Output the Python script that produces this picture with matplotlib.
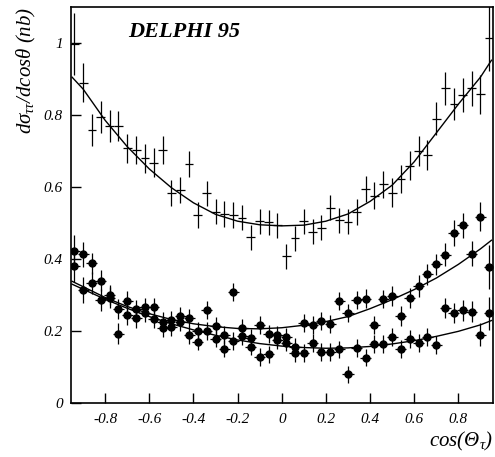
import matplotlib
matplotlib.use("Agg")
import matplotlib.pyplot as plt
import numpy as np

# ==============================
# DATA
# ==============================
bins = [-0.94, -0.90, -0.86, -0.82, -0.78, -0.74, -0.70, -0.66, -0.62, -0.58,
        -0.54, -0.50, -0.46, -0.42, -0.38, -0.34, -0.30, -0.26, -0.22, -0.18,
        -0.14, -0.10, -0.06, -0.02, 0.02, 0.06, 0.10, 0.14, 0.18, 0.22,
        0.26, 0.30, 0.34, 0.38, 0.42, 0.46, 0.50, 0.54, 0.58, 0.62,
        0.66, 0.70, 0.74, 0.78, 0.82, 0.86, 0.90, 0.94]

# upper data set (crosses)
top_y = [0.997, 0.890, 0.758, 0.794, 0.770, 0.770, 0.708, 0.703, 0.680, 0.667,
         0.703, 0.583, 0.592, 0.664, 0.522, 0.583, 0.531, 0.525, 0.522, 0.515,
         0.460, 0.505, 0.502, 0.494, 0.408, 0.457, 0.505, 0.476, 0.487, 0.542,
         0.507, 0.504, 0.531, 0.594, 0.576, 0.607, 0.584, 0.622, 0.659, 0.700,
         0.689, 0.790, 0.874, 0.830, 0.856, 0.874, 0.857, 1.013]
top_err = [0.085, 0.055, 0.045, 0.045, 0.045, 0.042, 0.040, 0.040, 0.040, 0.040,
           0.040, 0.037, 0.037, 0.037, 0.035, 0.035, 0.035, 0.035, 0.035, 0.035,
           0.035, 0.035, 0.035, 0.035, 0.035, 0.035, 0.035, 0.035, 0.035, 0.035,
           0.035, 0.035, 0.037, 0.037, 0.037, 0.037, 0.040, 0.040, 0.040, 0.042,
           0.042, 0.045, 0.045, 0.045, 0.048, 0.048, 0.055, 0.090]

# middle data set (dots)
mid_y = [0.380, 0.413, 0.388, 0.340, 0.300, 0.262, 0.284, 0.260, 0.266, 0.266,
         0.226, 0.230, 0.242, 0.237, 0.199, 0.258, 0.214, 0.190, 0.309, 0.207,
         0.180, 0.217, 0.193, 0.190, 0.182, 0.156, 0.221, 0.217, 0.228, 0.219,
         0.283, 0.249, 0.286, 0.290, 0.217, 0.289, 0.297, 0.242, 0.292, 0.325,
         0.357, 0.385, 0.412, 0.472, 0.494, 0.415, 0.517, 0.378]
mid_err = [0.045, 0.035, 0.030, 0.030, 0.028, 0.028, 0.028, 0.026, 0.026, 0.026,
           0.026, 0.025, 0.025, 0.025, 0.025, 0.025, 0.025, 0.025, 0.025, 0.025,
           0.025, 0.025, 0.025, 0.025, 0.025, 0.025, 0.025, 0.025, 0.025, 0.025,
           0.025, 0.025, 0.026, 0.026, 0.026, 0.026, 0.028, 0.028, 0.028, 0.030,
           0.030, 0.030, 0.032, 0.035, 0.035, 0.035, 0.040, 0.060]

# lower data set (dots)
low_y = [0.423, 0.314, 0.333, 0.286, 0.293, 0.193, 0.244, 0.235, 0.250, 0.233,
         0.207, 0.212, 0.226, 0.190, 0.170, 0.200, 0.179, 0.151, 0.172, 0.185,
         0.156, 0.128, 0.135, 0.175, 0.168, 0.138, 0.139, 0.167, 0.142, 0.142,
         0.149, 0.080, 0.153, 0.126, 0.164, 0.164, 0.182, 0.150, 0.177, 0.167,
         0.183, 0.161, 0.265, 0.251, 0.257, 0.254, 0.190, 0.249]
low_err = [0.045, 0.035, 0.030, 0.030, 0.028, 0.028, 0.028, 0.026, 0.026, 0.026,
           0.025, 0.025, 0.025, 0.025, 0.024, 0.024, 0.024, 0.024, 0.024, 0.024,
           0.024, 0.024, 0.024, 0.024, 0.024, 0.024, 0.024, 0.024, 0.024, 0.024,
           0.024, 0.024, 0.024, 0.024, 0.024, 0.024, 0.025, 0.025, 0.025, 0.026,
           0.026, 0.026, 0.028, 0.028, 0.030, 0.030, 0.032, 0.045]

# fitted curves, read at fixed cos(theta) values
fit_x = [-0.95, -0.9, -0.8, -0.7, -0.6, -0.5, -0.4, -0.3, -0.2, -0.1, 0.0,
         0.1, 0.2, 0.3, 0.4, 0.5, 0.6, 0.7, 0.8, 0.9, 0.95]
fit_top = [0.905, 0.872, 0.785, 0.712, 0.650, 0.598, 0.556, 0.524, 0.505, 0.495, 0.492,
           0.494, 0.505, 0.525, 0.560, 0.605, 0.670, 0.750, 0.830, 0.905, 0.952]
fit_mid = [0.338, 0.323, 0.293, 0.268, 0.248, 0.232, 0.220, 0.212, 0.207, 0.206, 0.209,
           0.216, 0.226, 0.240, 0.262, 0.287, 0.315, 0.347, 0.385, 0.428, 0.452]
fit_low = [0.330, 0.316, 0.288, 0.263, 0.240, 0.220, 0.203, 0.188, 0.175, 0.165, 0.158,
           0.154, 0.152, 0.153, 0.157, 0.164, 0.173, 0.185, 0.199, 0.217, 0.229]

yticks = [0, 0.2, 0.4, 0.6, 0.8, 1]
ytick_labels = ["0", "0.2", "0.4", "0.6", "0.8", "1"]
xticks = [-0.8, -0.6, -0.4, -0.2, 0, 0.2, 0.4, 0.6, 0.8]
xtick_labels = ["-0.8", "-0.6", "-0.4", "-0.2", "0", "0.2", "0.4", "0.6", "0.8"]

# ==============================
# STYLE
# ==============================
plt.rcParams["font.family"] = ["Liberation Serif", "DejaVu Serif"]
plt.rcParams["font.style"] = "italic"
plt.rcParams["mathtext.fontset"] = "custom"
plt.rcParams["mathtext.it"] = "Liberation Serif:italic"
plt.rcParams["mathtext.rm"] = "Liberation Serif:italic"
plt.rcParams["axes.unicode_minus"] = False

fig = plt.figure(figsize=(4.95, 4.57), dpi=100)
ax = fig.add_axes([0.1434, 0.1182, 0.853, 0.8665])

# ==============================
# DATA POINTS
# ==============================
ax.errorbar(bins, top_y, yerr=top_err, xerr=0.02, fmt="none",
            ecolor="black", elinewidth=0.9, capsize=0)
ax.errorbar(bins, mid_y, yerr=mid_err, xerr=0.025, fmt="o", color="black",
            ms=5, elinewidth=0.9, capsize=0)
ax.errorbar(bins, low_y, yerr=low_err, xerr=0.025, fmt="o", color="black",
            ms=5, elinewidth=0.9, capsize=0)

# ==============================
# FITS
# ==============================
for fy in (fit_top, fit_mid, fit_low):
    ax.plot(fit_x, fy, color="black", lw=1.0)

# ==============================
# AXES
# ==============================
ax.set_xlim(-0.955, 0.958)
ax.set_ylim(0, 1.1)
ax.set_xticks(xticks)
ax.set_xticklabels(xtick_labels, fontsize=11, style="italic")
ax.set_yticks(yticks)
ax.set_yticklabels(ytick_labels, fontsize=11, style="italic")
ax.tick_params(direction="in", length=7, width=1.0, top=False, right=False)
ax.tick_params(axis="x", pad=7)
ax.tick_params(axis="y", pad=6)
for s in ax.spines.values():
    s.set_linewidth(1.2)

ax.set_ylabel(r"$d\sigma_{\tau\tau}/dcos\theta\ (nb)$", fontsize=15, loc="top", labelpad=4)
ax.set_xlabel(r"$cos(\Theta_{\tau})$", fontsize=15, loc="right", labelpad=3)

ax.text(0.135, 0.937, "DELPHI 95", transform=ax.transAxes, fontsize=16,
        fontweight="bold", style="italic", va="center", ha="left")

fig.savefig("out.png", dpi=100)
